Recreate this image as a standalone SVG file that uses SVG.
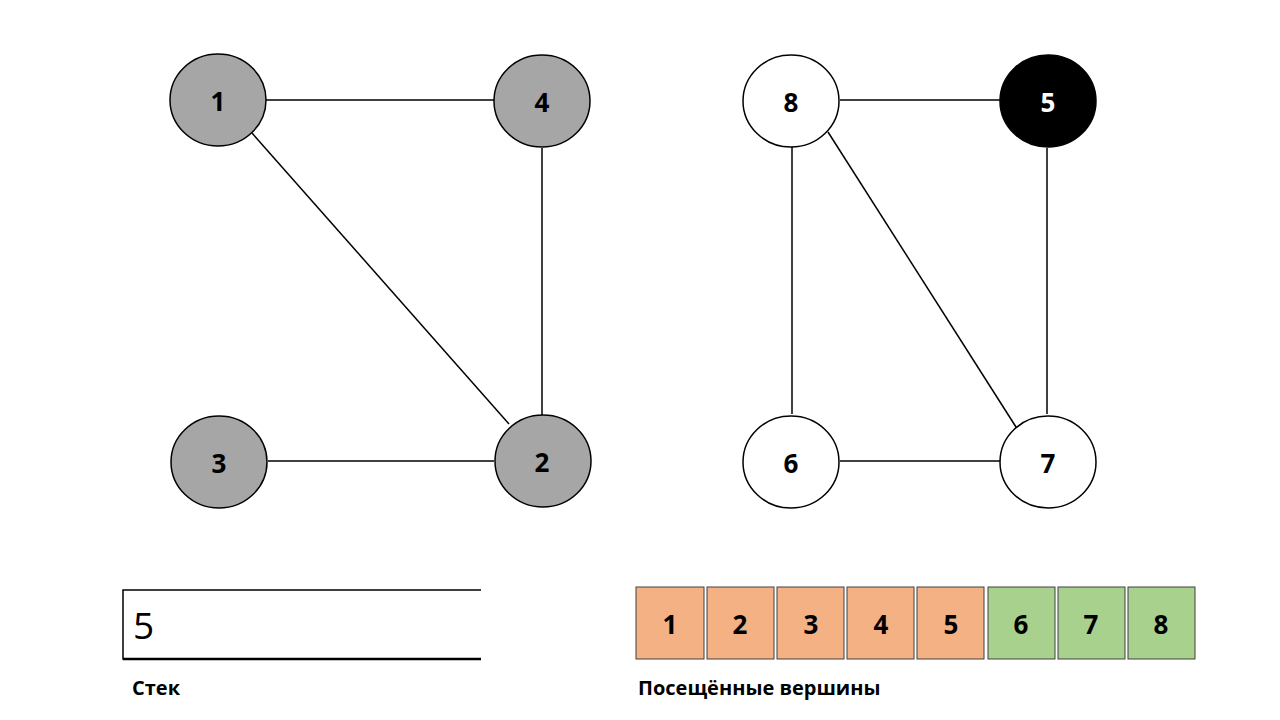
<svg xmlns="http://www.w3.org/2000/svg" width="1280" height="720" viewBox="0 0 1280 720">
<style>
.n{stroke:#000;stroke-width:1.5}
.g{fill:#A6A6A6}
.w{fill:#FFFFFF}
.b{fill:#000000}
.t{font-family:"Open Sans","Liberation Sans",sans-serif;font-weight:bold;font-size:26px;text-anchor:middle;dominant-baseline:central}
.e line{stroke:#000;stroke-width:1.5}
.o{fill:#F4B183;stroke:#404040;stroke-width:1}
.gr{fill:#A9D18E;stroke:#404040;stroke-width:1}
.lbl{font-family:"Open Sans","Liberation Sans",sans-serif;font-weight:bold;font-size:20px}
</style>
<rect width="1280" height="720" fill="#FFFFFF"/>
<g id="connectors" class="e">
<line x1="266" y1="100" x2="494" y2="100"/>
<line x1="252" y1="133" x2="509" y2="424"/>
<line x1="542" y1="148" x2="542" y2="415"/>
<line x1="268" y1="461" x2="494" y2="461"/>
<line x1="840" y1="100" x2="1000" y2="100"/>
<line x1="792" y1="147" x2="792" y2="414"/>
<line x1="828" y1="132" x2="1016" y2="427"/>
<line x1="1047" y1="148" x2="1047" y2="414"/>
<line x1="840" y1="461" x2="1000" y2="461"/>
</g>
<g id="node1"><ellipse class="n g" cx="218" cy="100" rx="48" ry="46"/><text class="t" x="218" y="101">1</text></g>
<g id="node4"><ellipse class="n g" cx="542" cy="101" rx="48" ry="46"/><text class="t" x="542" y="102">4</text></g>
<g id="node3"><ellipse class="n g" cx="219" cy="462" rx="48" ry="46"/><text class="t" x="219" y="463">3</text></g>
<g id="node2"><ellipse class="n g" cx="543" cy="461" rx="48" ry="46"/><text class="t" x="542" y="462">2</text></g>
<g id="node8"><ellipse class="n w" cx="791" cy="101" rx="48" ry="46"/><text class="t" x="791" y="102">8</text></g>
<g id="node5"><ellipse class="n b" cx="1048" cy="101" rx="48" ry="46"/><text class="t" x="1048" y="102" fill="#FFFFFF">5</text></g>
<g id="node6"><ellipse class="n w" cx="791" cy="462" rx="48" ry="46"/><text class="t" x="791" y="463">6</text></g>
<g id="node7"><ellipse class="n w" cx="1048" cy="462" rx="48" ry="46"/><text class="t" x="1048" y="463">7</text></g>
<g id="stack">
<path d="M481 590 H123 V659 H481" fill="none" stroke="#000" stroke-width="1.5"/>
<line x1="123" y1="659" x2="481" y2="659" stroke="#000" stroke-width="2.5"/>
<text x="133" y="639" font-family="Open Sans, Liberation Sans, sans-serif" font-size="37">5</text>
<text class="lbl" x="132" y="695">Стек</text>
</g>
<g id="visited">
<rect class="o" x="636" y="587" width="68" height="72"/><text class="t" x="670" y="624">1</text>
<rect class="o" x="707" y="587" width="67" height="72"/><text class="t" x="740" y="624">2</text>
<rect class="o" x="777" y="587" width="67" height="72"/><text class="t" x="811" y="624">3</text>
<rect class="o" x="847" y="587" width="67" height="72"/><text class="t" x="881" y="624">4</text>
<rect class="o" x="917" y="587" width="67" height="72"/><text class="t" x="951" y="624">5</text>
<rect class="gr" x="988" y="587" width="67" height="72"/><text class="t" x="1021" y="624">6</text>
<rect class="gr" x="1058" y="587" width="67" height="72"/><text class="t" x="1091" y="624">7</text>
<rect class="gr" x="1128" y="587" width="67" height="72"/><text class="t" x="1161" y="624">8</text>
<text class="lbl" x="638" y="695">Посещённые вершины</text>
</g>
</svg>
